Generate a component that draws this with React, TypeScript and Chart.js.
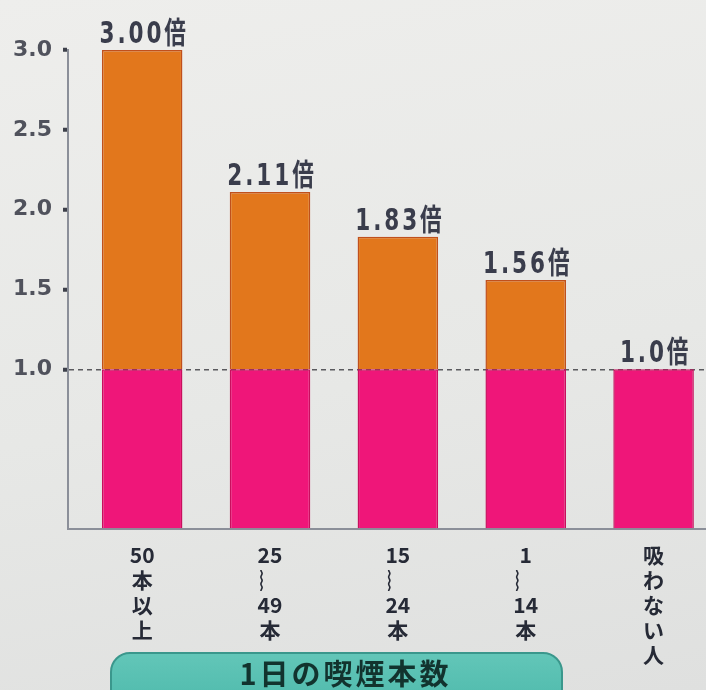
import React, { useEffect, useRef } from "react";
import { Chart, registerables } from "chart.js";

Chart.register(...registerables);

// ---- data ----
const categoryNames = ["50本以上", "25〜49本", "15〜24本", "1〜14本", "吸わない人"];
const tickLines = [
  ["50", "本", "以", "上"],
  ["25", "︴", "49", "本"],
  ["15", "︴", "24", "本"],
  ["1", "︴", "14", "本"],
  ["吸", "わ", "な", "い", "人"],
];
const baseValues = [1.0, 1.0, 1.0, 1.0, 1.0];
const excessValues = [2.0, 1.11, 0.83, 0.56, 0.0];
const valueLabels = ["3.00倍", "2.11倍", "1.83倍", "1.56倍", "1.0倍"];
const xAxisTitle = "1日の喫煙本数";
const yMin = 0;
const yMax = 3;
const yStep = 0.5;
const xMin = -0.58;
const xMax = 4.41;

const valueLabelPlugin = {
  id: "valueLabels",
  afterDatasetsDraw(chart: any) {
    const ctx = chart.ctx as CanvasRenderingContext2D;
    const metaTop = chart.getDatasetMeta(1);
    ctx.save();
    ctx.font = "bold 30px 'DejaVu Sans', 'Noto Sans CJK JP'";
    ctx.fillStyle = "#3a3d4c";
    ctx.textAlign = "center";
    ctx.textBaseline = "alphabetic";
    (ctx as any).letterSpacing = "4px";
    metaTop.data.forEach((el: any, i: number) => {
      const { x, y } = el.getProps(["x", "y"], true);
      ctx.save();
      ctx.translate(x + 2, y - 7);
      ctx.scale(0.72, 1);
      ctx.fillText(valueLabels[i], 0, 0);
      ctx.restore();
    });
    ctx.restore();
  },
};

export default function App() {
  const ref = useRef<HTMLCanvasElement>(null);

  useEffect(() => {
    const chart = new Chart(ref.current as HTMLCanvasElement, {
      type: "bar",
      data: {
        datasets: [
          {
            label: "基準",
            data: baseValues.map((v, i) => ({ x: i, y: v })),
            backgroundColor: "#ef1679",
            borderColor: "#c80f5e",
            borderWidth: 1.5,
            borderSkipped: "bottom",
          },
          {
            label: "増加分",
            data: excessValues.map((v, i) => ({ x: i, y: v })),
            backgroundColor: "#e2771c",
            borderColor: "#c0501c",
            borderWidth: (c: any) => (c.raw && c.raw.y > 0 ? 1.5 : 0),
            borderSkipped: "bottom",
          },
        ],
      } as any,
      options: {
        animation: false,
        responsive: false,
        devicePixelRatio: 1,
        layout: { padding: { top: 50, left: 0, right: 0, bottom: 0 } },
        barPercentage: 0.63,
        categoryPercentage: 1,
        plugins: {
          legend: { display: false },
          tooltip: { enabled: false },
          title: { display: false },
        },
        scales: {
          x: {
            type: "linear",
            stacked: true,
            offset: false,
            min: xMin,
            max: xMax,
            afterBuildTicks: (scale: any) => {
              scale.ticks = categoryNames.map((_, i) => ({ value: i }));
            },
            afterFit: (scale: any) => {
              scale.height = 161;
            },
            grid: { display: false, offset: false },
            border: { display: true, color: "#8b8f99", width: 2 },
            ticks: {
              autoSkip: false,
              maxRotation: 0,
              minRotation: 0,
              padding: 6,
              color: "#262a36",
              font: { family: "'Noto Sans CJK JP', 'DejaVu Sans'", size: 21, weight: "bold", lineHeight: 1.19 },
              callback: (_v: any, index: number) => tickLines[index],
            },
          },
          y: {
            stacked: true,
            min: yMin,
            max: yMax,
            afterFit: (scale: any) => {
              scale.width = 68;
            },
            grid: {
              drawOnChartArea: true,
              color: (c: any) => (c.tick && Math.abs(c.tick.value - 1) < 1e-6 ? "#5a5a5e" : "rgba(0,0,0,0)"),
              lineWidth: 1.5,
              tickLength: 5,
              tickWidth: 4,
              tickColor: (c: any) => (c.tick && c.tick.value >= 1 - 1e-6 ? "#3d404a" : "rgba(0,0,0,0)"),
            },
            border: { display: true, color: "#8b8f99", width: 2, dash: [5, 4] },
            ticks: {
              stepSize: yStep,
              padding: 11,
              color: "#50525c",
              font: { family: "'DejaVu Sans'", size: 22, weight: "bold" },
              callback: (v: any) => (Number(v) >= 1 ? Number(v).toFixed(1) : ""),
            },
          },
        },
      } as any,
      plugins: [valueLabelPlugin],
    });
    return () => chart.destroy();
  }, []);

  return (
    <div
      style={{
        position: "fixed",
        left: 0,
        top: 0,
        width: 706,
        height: 690,
        overflow: "hidden",
        background: "linear-gradient(170deg, #eeeeec 0%, #e7e8e6 55%, #dfe0df 100%)",
      }}
    >
      <canvas ref={ref} width={706} height={690} style={{ position: "absolute", left: 0, top: 0 }} />
      <div
        style={{
          position: "absolute",
          left: 110,
          top: 652,
          width: 453,
          height: 60,
          boxSizing: "border-box",
          borderRadius: 20,
          background: "linear-gradient(180deg, #62c6b8 0%, #4db9ab 100%)",
          border: "2px solid #3a978c",
          color: "#12332e",
          fontFamily: "'Noto Sans CJK JP', sans-serif",
          fontWeight: 700,
          fontSize: 29,
          lineHeight: "34px",
          paddingTop: 1,
          paddingLeft: 18,
          textAlign: "center",
          letterSpacing: 3,
        }}
      >
        {xAxisTitle}
      </div>
    </div>
  );
}
